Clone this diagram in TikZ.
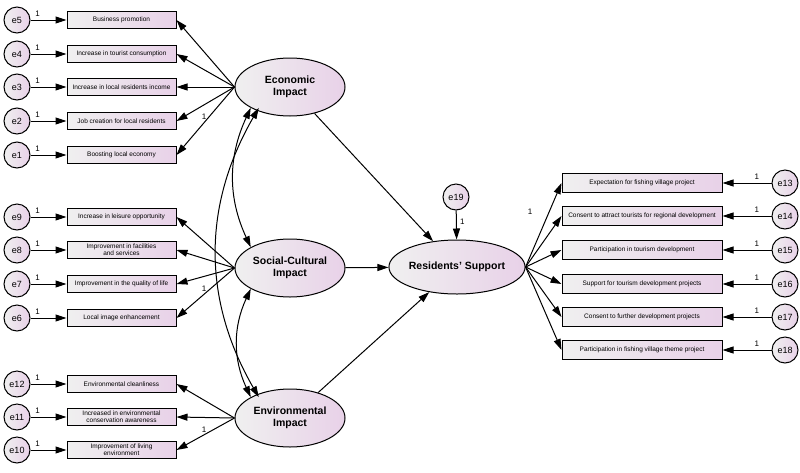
\documentclass[tikz,border=0pt]{standalone}
\usepackage{fontspec}
\setmainfont{Liberation Sans}
\usetikzlibrary{arrows.meta,shapes.geometric}
\begin{document}
\begin{tikzpicture}[x=1pt,y=-1pt,
  shd/.style={left color=gray!12,right color=violet!18},
  obs/.style={draw,line width=1pt,shd,minimum width=109pt,minimum height=17pt,inner sep=1pt,font=\fontsize{6.5}{7}\selectfont,align=center},
  obsr/.style={obs,minimum width=160pt,minimum height=19pt},
  lat/.style={draw,ellipse,line width=1pt,shd,minimum width=110pt,minimum height=58pt,inner sep=0pt,font=\bfseries\fontsize{10.5}{12}\selectfont,align=center},
  err/.style={draw,circle,line width=1pt,shd,minimum size=26pt,inner sep=0pt,font=\fontsize{9}{10}\selectfont},
  arr/.style={-{Triangle[length=11pt,width=7pt]},line width=1pt},
  dar/.style={{Triangle[length=11pt,width=7pt]}-{Triangle[length=11pt,width=7pt]},line width=1pt},
  one/.style={font=\fontsize{8}{9}\selectfont}]
\useasboundingbox (0,0) rectangle (800,472);
% latent
\node[lat] (EI) at (290,87) {Economic\\Impact};
\node[lat] (SI) at (290,268) {Social-Cultural\\Impact};
\node[lat] (VI) at (290,418) {Environmental\\Impact};
\node[lat,minimum width=124pt,minimum height=54pt] (RS) at (457,267) {Residents' Support};
\node[err] (e19) at (456,197) {e19};
\draw[arr] (e19) -- node[one,right,pos=0.4]{1} (RS);
% economic
\foreach \n/\y/\t in {5/20/Business promotion,4/54/Increase in tourist consumption,3/87/Increase in local residents income,2/121/Job creation for local residents,1/155/Boosting local economy}{
  \node[obs] (b\n) at (121.5,\y) {\t};
  \node[err] (e\n) at (17,\y) {e\n};
  \draw[arr] (e\n) -- node[one,above,pos=0.2]{1} (b\n);
  \draw[arr] (EI.west) -- (b\n.east);
}
\node[one] at (204,117) {1};
% social
\foreach \n/\y/\t in {9/217/Increase in leisure opportunity,8/250/Improvement in facilities\\and services,7/284/Improvement in the quality of life,6/318/Local image enhancement}{
  \node[obs] (b\n) at (121.5,\y) {\t};
  \node[err] (e\n) at (17,\y) {e\n};
  \draw[arr] (e\n) -- node[one,above,pos=0.2]{1} (b\n);
  \draw[arr] (SI.west) -- (b\n.east);
}
\node[one] at (204,289) {1};
% env
\foreach \n/\y/\t in {12/384/Environmental cleanliness,11/417/Increased in environmental\\conservation awareness,10/450/Improvement of living\\environment}{
  \node[obs] (b\n) at (121.5,\y) {\t};
  \node[err] (e\n) at (17,\y) {e\n};
  \draw[arr] (e\n) -- node[one,above,pos=0.2]{1} (b\n);
  \draw[arr] (VI.west) -- (b\n.east);
}
\node[one] at (204,430) {1};
% right
\foreach \n/\y/\t in {13/183/Expectation for fishing village project,14/216/Consent to attract tourists for regional development,15/250/Participation in tourism development,16/284/Support for tourism development projects,17/317/Consent to further development projects,18/350/Participation in fishing village theme project}{
  \node[obsr] (b\n) at (642,\y) {\t};
  \node[err] (e\n) at (785,\y) {e\n};
  \draw[arr] (e\n) -- node[one,above,pos=0.3]{1} (b\n);
  \draw[arr] (RS.east) -- (b\n.west);
}
\node[one] at (530,212) {1};
% structural
\draw[arr] (EI) -- (RS);
\draw[arr] (SI) -- (RS);
\draw[arr] (VI) -- (RS);
% covariances
\draw[dar] (EI.south west) to[bend right=25] (SI.north west);
\draw[dar] (SI.south west) to[bend right=25] (VI.north west);
\draw[dar] ([xshift=8pt]EI.south west) to[bend right=30] ([xshift=8pt]VI.north west);
\end{tikzpicture}
\end{document}
